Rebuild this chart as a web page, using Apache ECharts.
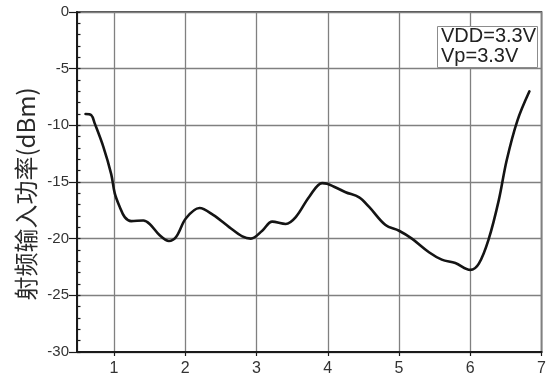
<!DOCTYPE html>
<html>
<head>
<meta charset="utf-8">
<script src="https://cdn.jsdelivr.net/npm/echarts@6/dist/echarts.min.js"></script>
<style>
  html, body { margin: 0; padding: 0; background: #fff; }
  #chart { width: 549px; height: 383px; }
</style>
</head>
<body>
<div id="chart"></div>
<script>
// Supply conditions shown in the annotation box
const supplyLabel = ['VDD=3.3V', 'Vp=3.3V'];
const yAxisTitle = '射频输入功率(dBm)';

// Horizontal axis positions of the measured curve
const xValues = [0.60, 0.68, 0.73, 0.85, 0.96, 1.01, 1.08, 1.15, 1.24, 1.41, 1.50, 1.64, 1.77, 1.87,
  2.01, 2.20, 2.39, 2.62, 2.80, 2.92, 3.08, 3.22, 3.41, 3.55, 3.74, 3.92, 3.99,
  4.25, 4.44, 4.58, 4.81, 5.00, 5.18, 5.42, 5.60, 5.79, 6.00, 6.12, 6.26, 6.40,
  6.51, 6.66, 6.83];
// RF input power (dBm)
const powerDbm = [-9.0, -9.1, -9.85, -11.9, -14.3, -16.0, -17.2, -18.1, -18.45, -18.4, -18.7, -19.7, -20.2, -19.85,
  -18.2, -17.3, -17.9, -19.0, -19.8, -20.0, -19.3, -18.5, -18.7, -18.1, -16.3, -15.1, -15.15,
  -15.9, -16.35, -17.2, -18.8, -19.3, -20.0, -21.2, -21.85, -22.15, -22.75, -22.2, -20.0, -16.6,
  -13.1, -9.6, -7.0];

const xTickLabels = [1, 2, 3, 4, 5, 6, 7];
const yTickLabels = [0, -5, -10, -15, -20, -25, -30];

const points = xValues.map((x, i) => [x, powerDbm[i]]);
const numFont = '"Liberation Sans", Arial, sans-serif';

const chart = echarts.init(document.getElementById('chart'), null, { renderer: 'canvas' });

chart.setOption({
  animation: false,
  backgroundColor: '#fff',
  grid: {
    left: 77, right: 4, top: 12, bottom: 31,
    show: true, borderColor: '#1a1a1a', borderWidth: 1.5, backgroundColor: 'transparent'
  },
  xAxis: {
    type: 'value',
    min: 0.48, max: 7,
    minInterval: 1, maxInterval: 1,
    axisLine: { show: true, onZero: false, lineStyle: { color: '#1a1a1a', width: 2 } },
    axisTick: { show: true, length: 4, lineStyle: { color: '#1a1a1a', width: 1.2 } },
    splitLine: { show: true, lineStyle: { color: '#808080', width: 1.3 } },
    axisLabel: {
      color: '#333', fontSize: 16, fontFamily: numFont, margin: 9,
      showMinLabel: false, showMaxLabel: true,
      formatter: v => (xTickLabels.indexOf(v) >= 0 ? String(v) : '')
    }
  },
  yAxis: [
    {
      type: 'value',
      min: -30, max: 0, interval: 5,
      axisLine: { show: true, onZero: false, lineStyle: { color: '#1a1a1a', width: 2 } },
      axisTick: { show: true, length: 8, lineStyle: { color: '#1a1a1a', width: 1.2 } },
      splitLine: { show: true, lineStyle: { color: '#808080', width: 1.3 } },
      axisLabel: {
        color: '#333', fontSize: 15, fontFamily: numFont, margin: 8,
        formatter: v => (yTickLabels.indexOf(v) >= 0 ? String(v) : '')
      }
    },
    {
      // unit ticks drawn inside the frame
      type: 'value', position: 'left',
      min: -30, max: 0, interval: 1,
      axisLine: { show: false },
      axisTick: { show: true, inside: true, length: 3.5, lineStyle: { color: '#1a1a1a', width: 1.2 } },
      splitLine: { show: false },
      axisLabel: { show: false }
    }
  ],
  series: [{
    type: 'line',
    data: points,
    smooth: 0.35,
    symbol: 'none',
    lineStyle: { color: '#141414', width: 2.6, cap: 'round' },
    z: 5
  }],
  graphic: [
    {
      type: 'text',
      x: 26, y: 194,
      rotation: Math.PI / 2,
      style: {
        text: yAxisTitle,
        font: '24px "Noto Sans CJK SC", sans-serif',
        fill: '#2a2a2a',
        align: 'center',
        verticalAlign: 'middle'
      }
    },
    {
      type: 'rect',
      shape: { x: 437.5, y: 26.5, width: 100, height: 41 },
      style: { fill: '#fff', stroke: '#8c8c8c', lineWidth: 1 },
      z: 10
    },
    {
      type: 'text',
      x: 441, y: 26.5,
      style: {
        text: supplyLabel.join('\n'),
        font: '20px "Liberation Sans", Arial, sans-serif',
        lineHeight: 20,
        fill: '#222',
        align: 'left',
        verticalAlign: 'top'
      },
      z: 11
    }
  ]
});
</script>
</body>
</html>
